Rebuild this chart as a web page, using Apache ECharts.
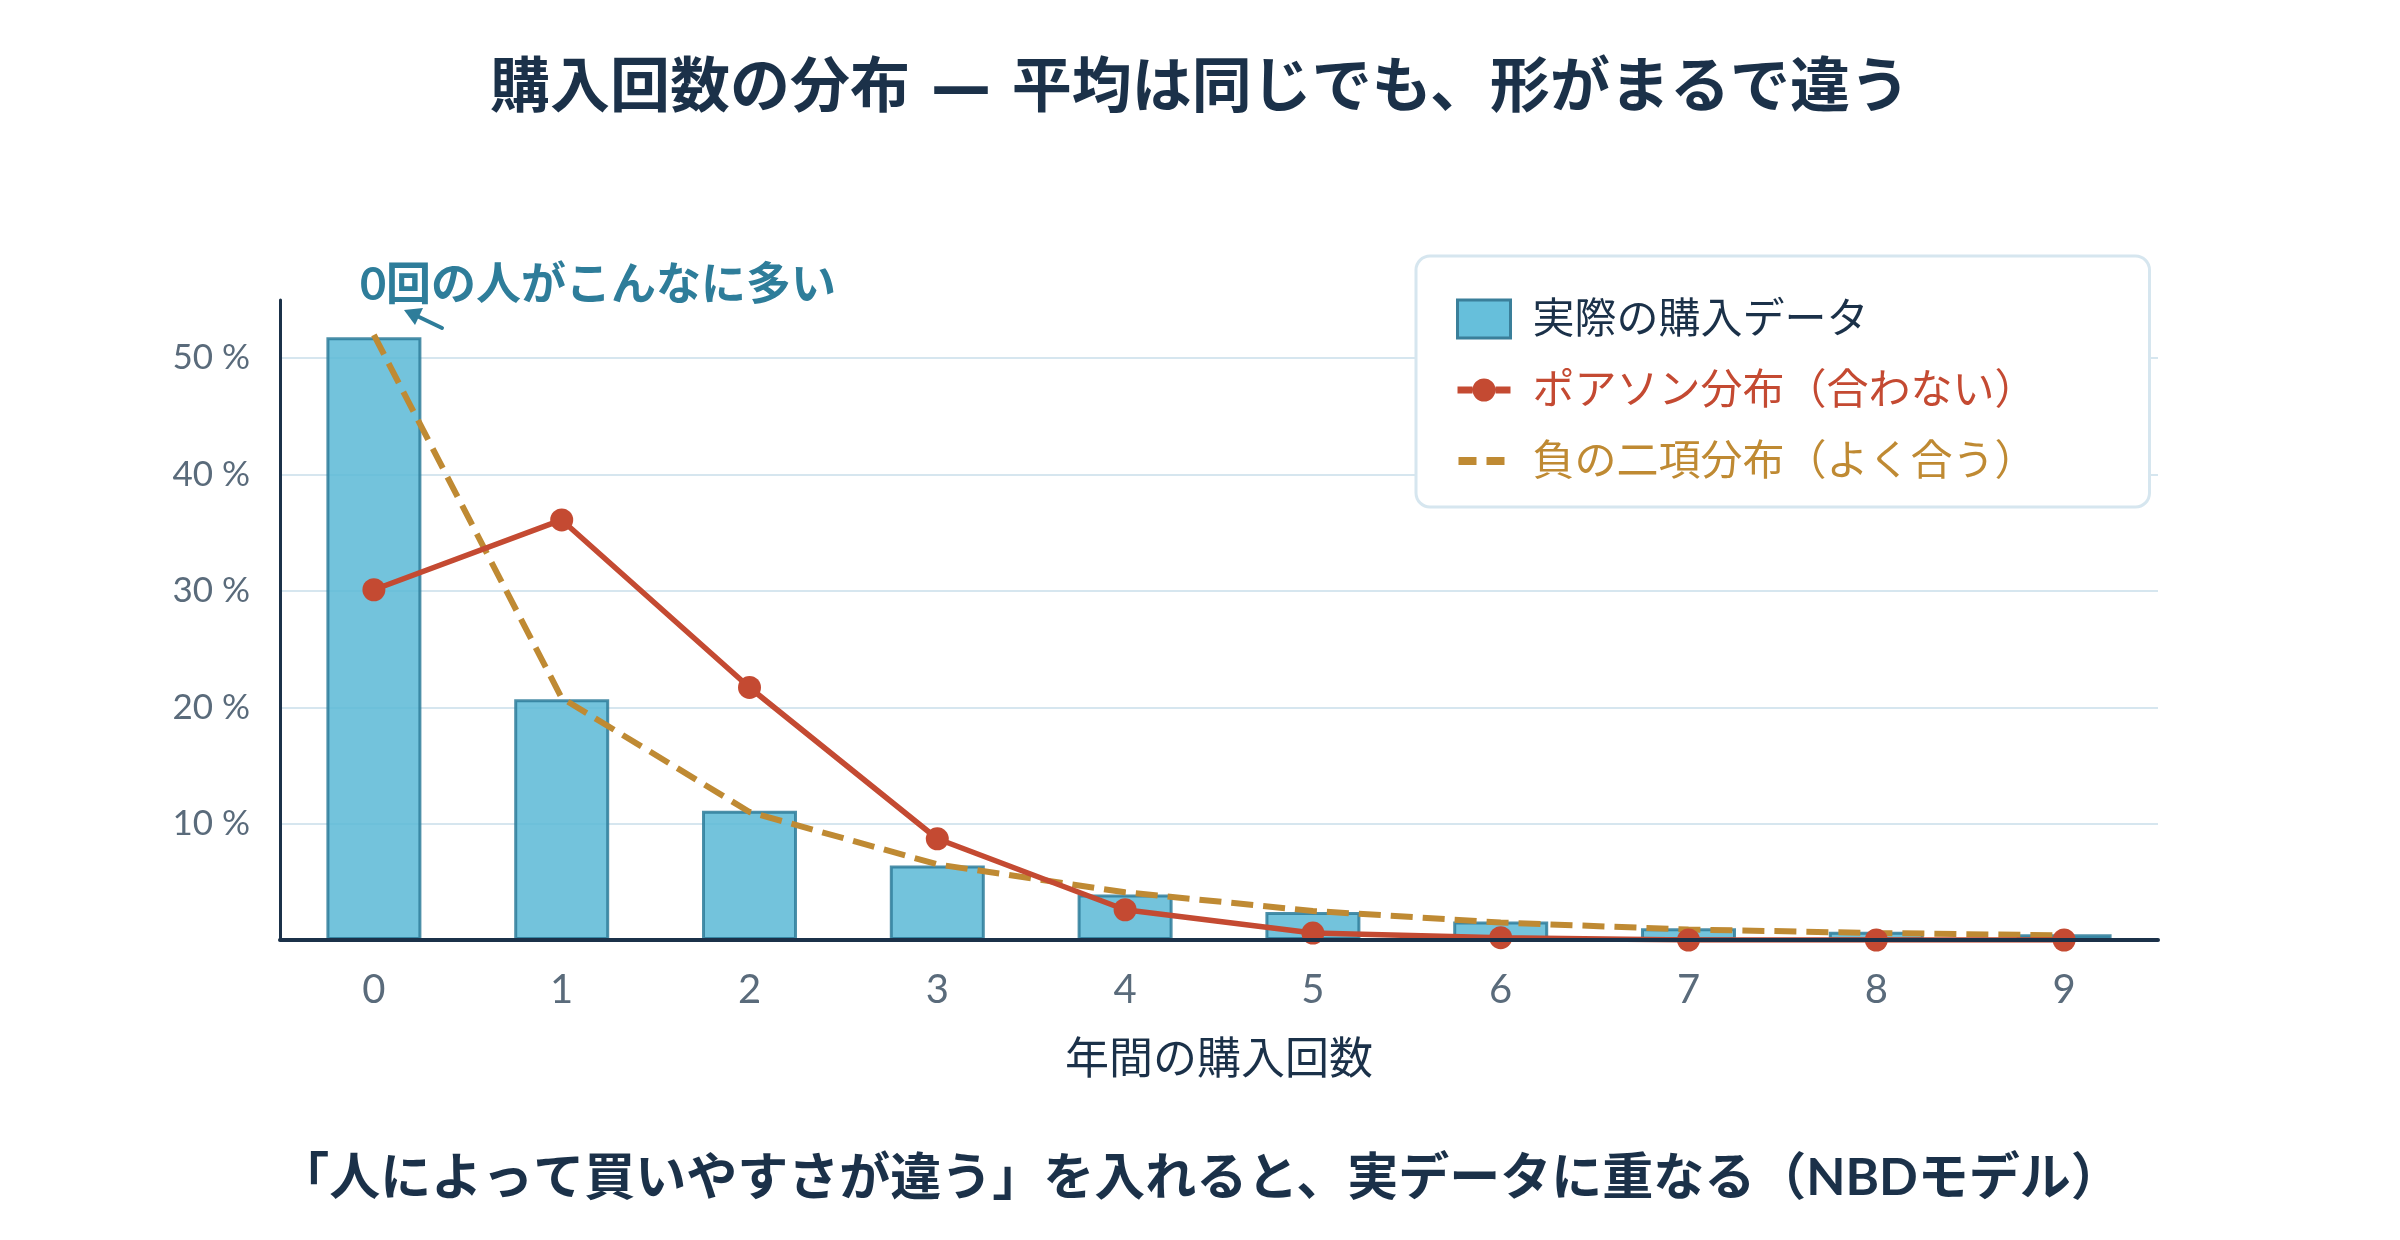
<!DOCTYPE html>
<html lang="ja">
<head>
<meta charset="utf-8">
<title>購入回数の分布</title>
<script src="https://cdn.jsdelivr.net/npm/echarts@6/dist/echarts.min.js"></script>
<style>
  html, body { margin: 0; padding: 0; background: #fff; }
  #chart { width: 2400px; height: 1240px; }
</style>
</head>
<body>
<div id="chart"></div>
<script>
// データ（図から読み取った値、単位 %）
const categories = ['0', '1', '2', '3', '4', '5', '6', '7', '8', '9'];
const actualData = [51.8, 20.7, 11.1, 6.4, 3.9, 2.4, 1.6, 1.0, 0.7, 0.5];
const poissonData = [30.1, 36.1, 21.7, 8.7, 2.6, 0.6, 0.2, 0.0, 0.0, 0.0];
const nbdData = [52.0, 20.8, 11.0, 6.5, 4.1, 2.5, 1.5, 0.9, 0.6, 0.4];
const yTickLabels = [10, 20, 30, 40, 50];

const NAVY = '#1B3149';
const RED = '#C44A32';
const GOLD = '#BF8A33';
const TEAL = '#2E7D9A';
const GREY = '#5A6B7B';
const FONT = "Lato, 'Noto Sans CJK JP', sans-serif";
const TITLE_FONT = "'DejaVu Sans', 'Noto Sans CJK JP', sans-serif";

// 凡例アイコン（線＋丸、破線）
const poissonIcon = 'path://M0,0 M53,38 M0,15.5 h15 v7 h-15 z M38,15.5 h15 v7 h-15 z '
  + 'M38,19 A11.5,11.5 0 1 1 15,19 A11.5,11.5 0 1 1 38,19 z';
const nbdIcon = 'path://M0,0 M53,38 M1,15 h18 v8 h-18 z M29,15 h18 v8 h-18 z';

const chart = echarts.init(document.getElementById('chart'));

const option = {
  backgroundColor: '#fff',
  textStyle: { fontFamily: FONT },
  title: [
    {
      text: '購入回数の分布 — 平均は同じでも、形がまるで違う',
      left: 'center',
      top: 56,
      textStyle: { fontSize: 60, fontWeight: 'bold', color: NAVY, fontFamily: TITLE_FONT },
    },
    {
      text: '「人によって買いやすさが違う」を入れると、実データに重なる（NBDモデル）',
      left: 'center',
      top: 1148,
      textStyle: { fontSize: 51, fontWeight: 'bold', color: NAVY, fontFamily: FONT },
    },
  ],
  legend: {
    orient: 'vertical',
    left: 1416,
    top: 256,
    padding: [42, 113, 25, 40],
    itemWidth: 53,
    itemHeight: 38,
    itemGap: 29,
    backgroundColor: '#fff',
    borderColor: '#D6E6EF',
    borderWidth: 3,
    borderRadius: 14,
    data: [
      {
        name: '実際の購入データ',
        icon: 'rect',
        itemStyle: { color: '#66BFDB', borderColor: '#3A7F9A', borderWidth: 3 },
        textStyle: { color: NAVY },
      },
      {
        name: 'ポアソン分布（合わない）',
        icon: poissonIcon,
        itemStyle: { color: RED },
        textStyle: { color: RED },
      },
      {
        name: '負の二項分布（よく合う）',
        icon: nbdIcon,
        itemStyle: { color: GOLD },
        textStyle: { color: GOLD },
      },
    ],
    textStyle: { fontSize: 42, fontFamily: FONT, padding: [0, 0, 0, 17] },
  },
  grid: {
    left: 280,
    right: 242,
    top: 300,
    bottom: 300,
  },
  xAxis: {
    type: 'category',
    data: categories,
    boundaryGap: true,
    name: '年間の購入回数',
    nameLocation: 'middle',
    nameGap: 98,
    nameTextStyle: { fontSize: 44, color: NAVY, fontFamily: FONT },
    axisLine: { lineStyle: { color: NAVY, width: 4 } },
    axisTick: { show: false },
    axisLabel: { fontSize: 40, color: GREY, margin: 30 },
    z: 5,
  },
  yAxis: {
    type: 'value',
    min: 0,
    max: 55,
    interval: 10,
    axisLine: { show: true, lineStyle: { color: NAVY, width: 3 } },
    axisTick: { show: false },
    axisLabel: {
      fontSize: 35,
      color: GREY,
      margin: 30,
      showMaxLabel: false,
      formatter: (v) => (yTickLabels.includes(v) ? v + ' %' : ''),
    },
    splitLine: {
      showMaxLine: false,
      lineStyle: { color: '#D6E6EF', width: 2 },
    },
  },
  series: [
    {
      name: '実際の購入データ',
      type: 'bar',
      data: actualData,
      barWidth: 95,
      itemStyle: {
        color: 'rgba(91,184,214,0.85)',
        borderColor: 'rgba(46,125,154,0.85)',
        borderWidth: 3,
      },
      z: 2,
    },
    {
      name: 'ポアソン分布（合わない）',
      type: 'line',
      data: poissonData,
      symbol: 'circle',
      symbolSize: 23,
      itemStyle: { color: RED },
      lineStyle: { color: RED, width: 5.5 },
      z: 4,
    },
    {
      name: '負の二項分布（よく合う）',
      type: 'line',
      data: nbdData,
      symbol: 'none',
      itemStyle: { color: GOLD },
      lineStyle: { color: GOLD, width: 6, type: [22, 10] },
      z: 3,
    },
  ],
  // 注釈（テキストと矢印）
  graphic: [
    {
      type: 'text',
      left: 360,
      top: 263,
      style: {
        text: '0回の人がこんなに多い',
        fill: TEAL,
        font: 'bold 45px ' + FONT,
      },
      z: 10,
    },
    {
      type: 'line',
      shape: { x1: 442, y1: 328, x2: 417, y2: 316 },
      style: { stroke: TEAL, lineWidth: 4, lineCap: 'round' },
      z: 10,
    },
    {
      type: 'polygon',
      shape: { points: [[404, 310], [423, 308], [415, 325]] },
      style: { fill: TEAL },
      z: 10,
    },
  ],
};

chart.setOption(option);
window.addEventListener('resize', () => chart.resize());
</script>
</body>
</html>
